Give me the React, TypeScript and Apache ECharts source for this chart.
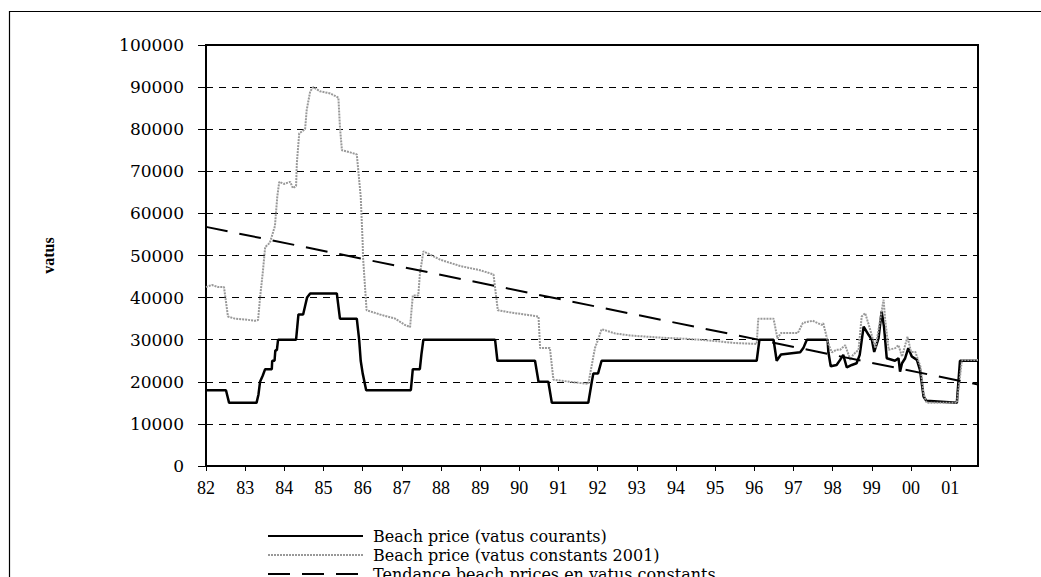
import React, { useEffect, useRef } from "react";
import * as echarts from "echarts";

// Beach price in current vatus: [year, value]
const currentYears = [
  1982.0, 1982.51, 1982.59, 1983.29, 1983.34, 1983.38, 1983.45, 1983.51, 1983.68, 1983.69,
  1983.75, 1983.77, 1983.81, 1983.84, 1984.3, 1984.36, 1984.48, 1984.53, 1984.58, 1984.66,
  1985.34, 1985.42, 1985.85, 1985.91, 1985.95, 1986.0, 1986.09, 1987.23, 1987.26, 1987.28,
  1987.46, 1987.5, 1987.55, 1989.38, 1989.44, 1990.4, 1990.49, 1990.74, 1990.83, 1991.76,
  1991.85, 1991.89, 1992.01, 1992.1, 1996.06, 1996.13, 1996.49, 1996.53, 1996.57, 1996.68,
  1997.17, 1997.25, 1997.34, 1997.87, 1997.89, 1997.95, 1998.1, 1998.19, 1998.27, 1998.36,
  1998.49, 1998.61, 1998.69, 1998.79, 1998.92, 1999.0, 1999.06, 1999.17, 1999.25, 1999.31,
  1999.38, 1999.59, 1999.68, 1999.72, 1999.77, 1999.85, 1999.93, 2000.02, 2000.15, 2000.23,
  2000.32, 2000.39, 2001.17, 2001.25, 2001.71,
];
const currentValues = [
  18000, 18000, 15000, 15000, 17000, 20000, 21500, 23000, 23000, 25000,
  25000, 27500, 27500, 30000, 30000, 36000, 36000, 38000, 40000, 41000,
  41000, 35000, 35000, 30000, 25000, 22000, 18000, 18000, 21000, 23000,
  23000, 26500, 30000, 30000, 25000, 25000, 20000, 20000, 15000, 15000,
  20000, 22000, 22000, 25000, 25000, 30000, 30000, 27500, 25000, 26500,
  27000, 28000, 30000, 30000, 27000, 23700, 24000, 25200, 26400, 23400,
  24000, 24400, 26400, 33100, 31100, 30000, 27100, 30300, 36700, 33100,
  25600, 25000, 25600, 22400, 24400, 25600, 28000, 26000, 25200, 22800,
  16500, 15500, 15000, 25000, 25000,
];

// Beach price in constant 2001 vatus: [year, value]
const constantYears = [
  1982.0, 1982.15, 1982.31, 1982.46, 1982.56, 1982.74, 1983.0, 1983.25, 1983.33, 1983.38,
  1983.45, 1983.51, 1983.63, 1983.76, 1983.82, 1983.87, 1983.99, 1984.15, 1984.22, 1984.3,
  1984.32, 1984.38, 1984.53, 1984.57, 1984.66, 1984.74, 1984.91, 1985.17, 1985.38, 1985.42,
  1985.47, 1985.68, 1985.85, 1985.95, 1986.0, 1986.01, 1986.1, 1986.44, 1986.83, 1987.08,
  1987.21, 1987.28, 1987.42, 1987.46, 1987.55, 1987.98, 1988.49, 1989.0, 1989.34, 1989.45,
  1989.75, 1990.13, 1990.49, 1990.53, 1990.78, 1990.87, 1991.29, 1991.76, 1991.93, 1992.01,
  1992.1, 1992.44, 1992.83, 1993.59, 1994.28, 1994.87, 1995.51, 1996.06, 1996.1, 1996.49,
  1996.59, 1996.68, 1997.11, 1997.24, 1997.49, 1997.72, 1997.76, 1997.89, 1997.98, 1998.1,
  1998.19, 1998.32, 1998.45, 1998.52, 1998.66, 1998.74, 1998.83, 1998.96, 1999.09, 1999.17,
  1999.3, 1999.34, 1999.43, 1999.6, 1999.68, 1999.77, 1999.91, 2000.0, 2000.11, 2000.24,
  2000.32, 2000.4, 2001.17, 2001.24, 2001.3, 2001.71,
];
const constantValues = [
  42500, 43000, 42500, 42500, 35500, 35000, 34800, 34500, 34700, 40000,
  46000, 52000, 53000, 57000, 64000, 67500, 67000, 67500, 66000, 66500,
  72000, 79000, 80000, 84500, 89000, 90000, 89000, 88500, 87500, 80500,
  75000, 74500, 74000, 64000, 53000, 49500, 37000, 36000, 35000, 33500,
  33000, 40500, 40500, 45500, 51000, 49000, 47500, 46500, 45500, 37000,
  36500, 36000, 35500, 28000, 28000, 20500, 20000, 19500, 28000, 30000,
  32500, 31500, 31000, 30500, 30200, 29800, 29200, 29000, 35000, 35000,
  30300, 31600, 31600, 34000, 34500, 33500, 33900, 29000, 27000, 27600,
  27600, 28700, 25200, 26400, 27600, 35500, 36300, 32300, 28000, 32300,
  39500, 34700, 27600, 28000, 28700, 26000, 30700, 27100, 27100, 23600,
  17200, 15000, 15000, 20400, 25200, 25200,
];

// Linear trend of constant prices
const trendYears = [1982.0, 2001.71];
const trendValues = [56800, 19350];

const yearTicks = [
  1982, 1983, 1984, 1985, 1986, 1987, 1988, 1989, 1990, 1991,
  1992, 1993, 1994, 1995, 1996, 1997, 1998, 1999, 2000, 2001,
];

const seriesNames = [
  "Beach price (vatus courants)",
  "Beach price (vatus constants 2001)",
  "Tendance beach prices en vatus constants",
];

const zip = (xs: number[], ys: number[]) => xs.map((x, i) => [x, ys[i]]);

export default function App() {
  const ref = useRef<HTMLDivElement>(null);
  useEffect(() => {
    document.body.style.margin = "0";
    document.body.style.overflow = "hidden";
    if (!ref.current) return;
    const chart = echarts.init(ref.current, undefined, { renderer: "svg" });
    const serif = "Liberation Serif";
    chart.setOption({
      animation: false,
      backgroundColor: "#fff",
      grid: {
        left: 206,
        top: 45,
        right: 63,
        bottom: 111,
        show: true,
        borderColor: "#000",
        borderWidth: 2,
        backgroundColor: "transparent",
      },
      xAxis: {
        type: "value",
        min: 1982,
        max: 2001.71,
        interval: 1,
        splitLine: { show: false },
        axisLine: { show: true, onZero: false, lineStyle: { color: "#000", width: 2 } },
        axisTick: {
          show: true,
          length: 5,
          lineStyle: { color: "#000", width: 1 },
          customValues: yearTicks,
        },
        axisLabel: {
          margin: 13,
          color: "#000",
          fontFamily: serif,
          fontSize: 18,
          customValues: yearTicks,
          formatter: (v: number) => String(Math.round(v) % 100).padStart(2, "0"),
        },
      },
      yAxis: {
        type: "value",
        min: 0,
        max: 100000,
        interval: 10000,
        name: "vatus",
        nameLocation: "middle",
        nameGap: 140,
        nameTextStyle: {
          color: "#000",
          fontFamily: serif,
          fontSize: 16,
          fontWeight: "bold",
          padding: [0, 0, 10, 0],
        },
        axisLine: { show: true, lineStyle: { color: "#000", width: 2 } },
        axisTick: { show: true, length: 8, lineStyle: { color: "#000", width: 1 } },
        axisLabel: {
          margin: 22,
          color: "#000",
          fontFamily: "DejaVu Serif",
          fontSize: 17,
          formatter: (v: number) => String(v),
        },
        splitLine: {
          show: true,
          lineStyle: { color: "#000", width: 1, type: [7, 6] },
        },
      },
      legend: {
        orient: "vertical",
        left: 267,
        top: 527,
        height: 150,
        padding: 0,
        itemWidth: 95,
        itemHeight: 14,
        itemGap: 1,
        itemStyle: { opacity: 0 },
        textStyle: {
          color: "#000",
          fontFamily: "DejaVu Serif",
          fontSize: 16,
          lineHeight: 18,
          padding: [0, 0, 0, 5],
        },
        data: seriesNames,
      },
      graphic: [
        {
          type: "polyline",
          shape: { points: [[9.5, 577], [9.5, 11.5], [1041, 11.5]] },
          style: { stroke: "#000", lineWidth: 1.2, fill: "none" },
          silent: true,
        },
      ],
      series: [
        {
          name: seriesNames[0],
          type: "line",
          data: zip(currentYears, currentValues),
          symbol: "none",
          lineStyle: { color: "#000", width: 2.5 },
          itemStyle: { color: "#000" },
          z: 3,
        },
        {
          name: seriesNames[1],
          type: "line",
          data: zip(constantYears, constantValues),
          symbol: "none",
          lineStyle: { color: "#999", width: 2, type: [2, 1] },
          itemStyle: { color: "#999" },
          z: 4,
        },
        {
          name: seriesNames[2],
          type: "line",
          data: zip(trendYears, trendValues),
          symbol: "none",
          lineStyle: { color: "#000", width: 2, type: [22, 12] },
          itemStyle: { color: "#000" },
          z: 5,
        },
      ],
    });
    return () => chart.dispose();
  }, []);
  return <div ref={ref} style={{ width: 1041, height: 577 }} />;
}
